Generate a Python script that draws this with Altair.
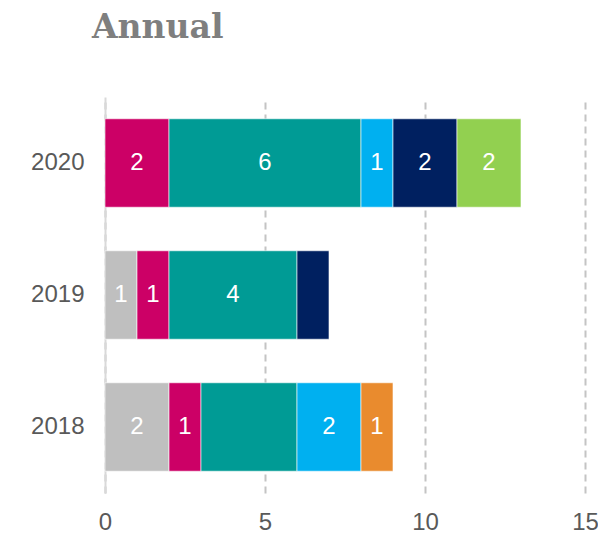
import altair as alt
import pandas as pd

years = ["2020", "2019", "2018"]
categories = ["Grey", "Magenta", "Teal", "Light blue", "Navy", "Green", "Orange"]
colors = ["#bfbfbf", "#cc0066", "#009b95", "#00b0f0", "#002060", "#92d050", "#e98b2e"]

# values per category, in the order of `years`
grey = [0, 1, 2]
magenta = [2, 1, 1]
teal = [6, 4, 3]
light_blue = [1, 0, 2]
navy = [2, 1, 0]
green = [2, 0, 0]
orange = [0, 0, 1]

# segments shown without a number label
unlabeled = [("2019", "Navy"), ("2018", "Teal")]

series = [grey, magenta, teal, light_blue, navy, green, orange]
rows = []
for ci, (cat, vals) in enumerate(zip(categories, series)):
    for yr, v in zip(years, vals):
        if v > 0:
            rows.append({
                "year": yr,
                "category": cat,
                "value": v,
                "order": ci,
                "label": "" if (yr, cat) in unlabeled else str(v),
            })
df = pd.DataFrame(rows)

x_scale = alt.Scale(domain=[0, 15], nice=False)

y_enc = alt.Y(
    "year:N",
    sort=years,
    scale=alt.Scale(paddingInner=0.33, paddingOuter=0.165),
    axis=alt.Axis(
        title=None, ticks=False, grid=False,
        domainColor="#d9d9d9", domainWidth=2,
        labelFont="Liberation Sans", labelFontSize=24, labelColor="#595959",
        labelPadding=21,
    ),
)

bars = alt.Chart(df).mark_bar(stroke="white", strokeWidth=0.6).encode(
    x=alt.X(
        "value:Q",
        stack="zero",
        scale=x_scale,
        axis=alt.Axis(
            title=None, values=[0, 5, 10, 15], grid=True,
            gridDash=[7, 5], gridColor="#c4c4c4", gridWidth=2,
            domain=False, ticks=False, labelFlush=False,
            labelFont="Liberation Sans", labelFontSize=24, labelColor="#595959",
            labelPadding=17,
        ),
    ),
    y=y_enc,
    color=alt.Color("category:N", scale=alt.Scale(domain=categories, range=colors), legend=None),
    order=alt.Order("order:Q"),
)

labels = alt.Chart(df).transform_stack(
    stack="value", groupby=["year"], as_=["x0", "x1"], sort=[alt.SortField("order")]
).transform_calculate(
    mid="(datum.x0 + datum.x1) / 2"
).transform_filter(
    "datum.label != ''"
).mark_text(color="white", font="Liberation Sans", fontSize=24, baseline="middle").encode(
    x=alt.X("mid:Q", scale=x_scale),
    y=alt.Y("year:N", sort=years),
    text="label:N",
)

chart = (bars + labels).properties(
    width=480,
    height=396,
    autosize=alt.AutoSizeParams(type="none"),
    padding={"left": 97, "top": 89, "right": 13, "bottom": 40},
    title=alt.TitleParams(
        "Annual", anchor="start", frame="group", dx=-13,
        font="DejaVu Serif", fontSize=33, fontWeight="bold", color="#7f7f7f",
        baseline="bottom", offset=19,
    ),
).configure_view(stroke=None)

chart.save("out.html", embed_options={"renderer": "svg", "actions": False})
